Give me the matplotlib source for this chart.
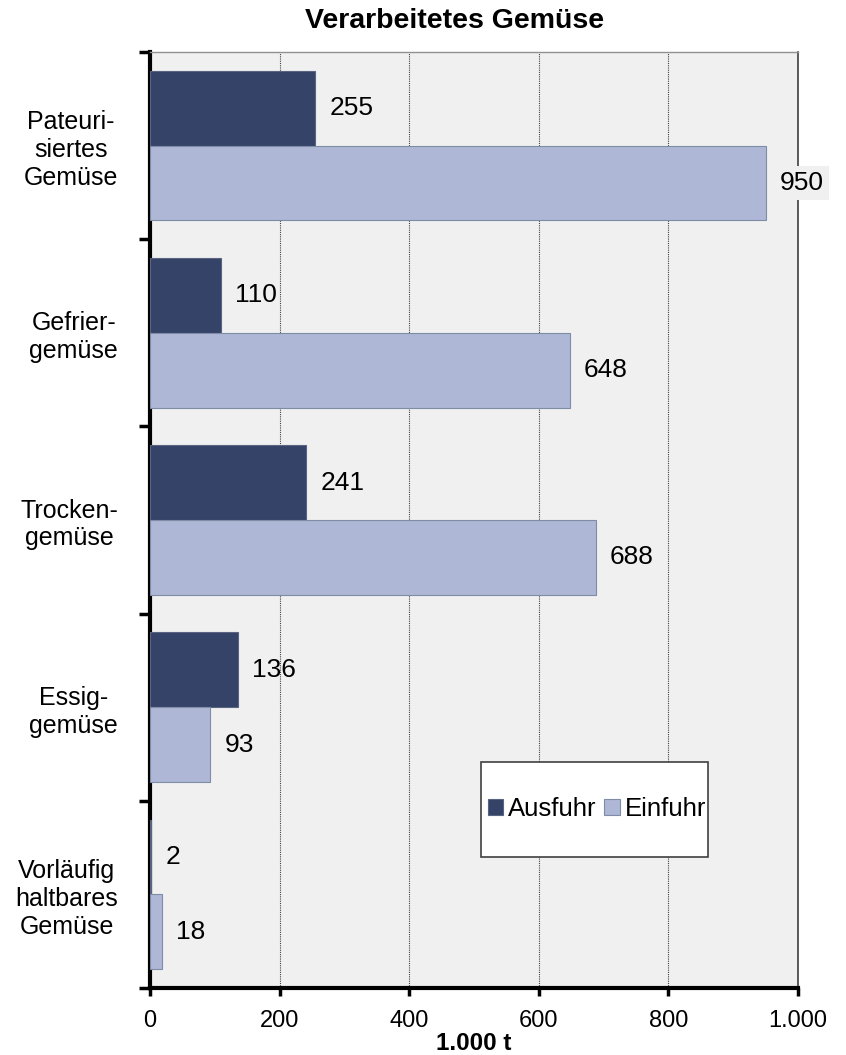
import matplotlib
matplotlib.use("Agg")
import matplotlib.pyplot as plt
from matplotlib.patches import Rectangle
from matplotlib.ticker import FuncFormatter, FixedLocator

plt.rcParams['font.family'] = ['Liberation Sans', 'DejaVu Sans']

categories = ["Pateuri-\nsiertes\nGemüse", "Gefrier-\ngemüse", "Trocken-\ngemüse",
              "Essig-\ngemüse", "Vorläufig\nhaltbares\nGemüse"]
ausfuhr = [255, 110, 241, 136, 2]
einfuhr = [950, 648, 688, 93, 18]
series_names = ["Ausfuhr", "Einfuhr"]
xticks = [0, 200, 400, 600, 800, 1000]

dark = "#354369"
light = "#aeb8d6"
bg = "#f0f0f0"

fig = plt.figure(figsize=(8.46, 10.55), dpi=100)
ax = fig.add_axes([150/846, 1-988/1055, 648/846, 936/1055])
ax.set_facecolor(bg)

n = len(categories)
pos = list(range(n))
h = 0.4
ax.barh([p - h/2 for p in pos], ausfuhr, height=h, color=dark, edgecolor="#5a6480",
        linewidth=0.8, zorder=3, label=series_names[0])
ax.barh([p + h/2 for p in pos], einfuhr, height=h, color=light, edgecolor="#7f8ca6",
        linewidth=0.8, zorder=3, label=series_names[1])

ax.set_xlim(0, 1000)
ax.set_ylim(n - 0.5, -0.5)

# value labels
for p, v in zip(pos, ausfuhr):
    ax.annotate(str(v), (v, p - h/2), xytext=(14, 0), textcoords="offset pixels",
                ha="left", va="center", fontsize=19, zorder=5)
for p, v in zip(pos, einfuhr):
    kw = {}
    if v > 900:
        kw = dict(bbox=dict(boxstyle="square,pad=0.2", fc=bg, ec="none"))
    ax.annotate(str(v), (v, p + h/2), xytext=(14, 0), textcoords="offset pixels",
                ha="left", va="center", fontsize=19, zorder=5, annotation_clip=False, **kw)

# y axis: boundaries as major ticks, categories as minor labels
ax.yaxis.set_major_locator(FixedLocator([p - 0.5 for p in range(n + 1)]))
ax.yaxis.set_major_formatter(FuncFormatter(lambda x, _: ""))
ax.yaxis.set_minor_locator(FixedLocator(pos))
ax.set_yticklabels(categories, minor=True)
ax.tick_params(axis="y", which="major", direction="out", length=8, width=2.5, color="black")
ax.tick_params(axis="y", which="minor", length=0, pad=23, labelsize=18)
for t in ax.yaxis.get_minorticklabels():
    t.set_multialignment("center")

ax.set_xticks(xticks)
ax.xaxis.set_major_formatter(FuncFormatter(lambda x, _: f"{int(x):,}".replace(",", ".")))
ax.tick_params(axis="x", direction="out", length=6, width=2.5, color="black", labelsize=17, pad=10)
ax.set_xlabel("1.000 t", fontsize=17.5, fontweight="bold", labelpad=0)

ax.grid(axis="x", color="#404040", linestyle=(0, (1, 1)), linewidth=0.8, zorder=1)
ax.set_axisbelow(True)

ax.spines["left"].set_linewidth(3)
ax.spines["left"].set_color("black")
ax.spines["bottom"].set_linewidth(3)
ax.spines["bottom"].set_color("black")
ax.spines["top"].set_color("#909090")
ax.spines["top"].set_linewidth(1)
ax.spines["right"].set_color("#404040")
ax.spines["right"].set_linewidth(1.2)

fig.text(455/846, 1 - 21/1055, "Verarbeitetes Gemüse", fontsize=20.5, fontweight="bold",
         ha="center", va="center")

# legend box
ax.add_patch(Rectangle((331/648, (988-857)/936), 227/648, 95/936, transform=ax.transAxes,
                       facecolor="white", edgecolor="#404040", linewidth=1.2, zorder=6))
leg = ax.legend(loc="center", bbox_to_anchor=((331+116)/648, (988-809)/936), ncol=2,
                frameon=False, fontsize=18.5, handlelength=0.6, handleheight=0.6,
                handletextpad=0.2, columnspacing=0.3, borderpad=0)
leg.set_zorder(7)

fig.savefig("out.png", dpi=100)
